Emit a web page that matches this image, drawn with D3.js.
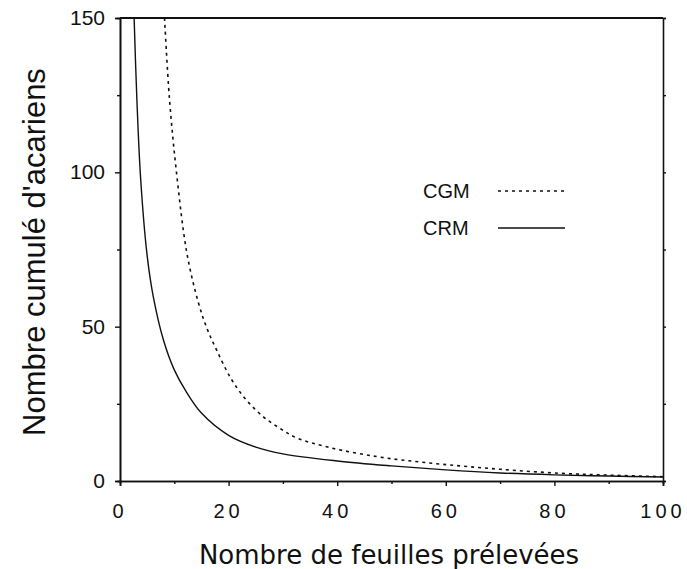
<!DOCTYPE html>
<html>
<head>
<meta charset="utf-8">
<script src="https://cdn.jsdelivr.net/npm/d3@7.9.0/dist/d3.min.js"></script>
<style>
  body { margin: 0; background: #fff; }
  svg { display: block; }
  text { fill: #111; }
</style>
</head>
<body>
<svg id="chart" width="687" height="569"></svg>
<script>
// values
const seriesNames = ['CGM', 'CRM'];
const crmX = [2.6, 3.1, 3.8, 5, 6.1, 8, 10, 12, 15, 20, 25, 30, 40, 50, 60, 70, 80, 90, 100];
const crmY = [150, 124, 98, 73, 60, 45.7, 36, 29.5, 22, 14.8, 11, 8.8, 6.5, 4.9, 3.6, 2.6, 2.0, 1.6, 1.3];
const cgmX = [8.2, 9.1, 10.4, 12.3, 14.4, 16, 17.8, 20.5, 23.3, 26.4, 29.5, 32.5, 38.7, 47.3, 55, 62.6, 70, 81, 90, 100];
const cgmY = [150, 124, 100, 74, 58, 49.5, 42.4, 33, 26.2, 20.8, 17, 14, 10.8, 7.9, 6.2, 4.9, 3.8, 2.5, 1.9, 1.4];
const xTicks = [0, 20, 40, 60, 80, 100];
const yTicks = [0, 50, 100, 150];

const plotLeft = 120, plotRight = 663, plotTop = 18, plotBottom = 481;

const svg = d3.select('#chart');

const x = d3.scaleLinear().domain([0, 100]).range([plotLeft, plotRight]);
const y = d3.scaleLinear().domain([0, 150]).range([plotBottom, plotTop]);

svg.append('defs').append('clipPath').attr('id', 'plot')
  .append('rect')
  .attr('x', plotLeft).attr('y', plotTop)
  .attr('width', plotRight - plotLeft).attr('height', plotBottom - plotTop);

// curves
let line = d3.line()
  .x((d) => x(d[0]))
  .y((d) => y(d[1]))
  .curve(d3.curveCatmullRom.alpha(0.5));

let crm = crmX.map((v, i) => [v, crmY[i]]);
let cgm = cgmX.map((v, i) => [v, cgmY[i]]);

svg.append('path')
  .attr('d', line(crm))
  .attr('clip-path', 'url(#plot)')
  .attr('fill', 'none')
  .attr('stroke', '#111')
  .attr('stroke-width', 1.4);

svg.append('path')
  .attr('d', line(cgm))
  .attr('clip-path', 'url(#plot)')
  .attr('fill', 'none')
  .attr('stroke', '#111')
  .attr('stroke-width', 1.6)
  .attr('stroke-dasharray', '3,4');

// axes
let xAxis = d3.axisBottom(x).tickValues(xTicks).tickSize(5).tickFormat(() => '');
let xMinor = d3.axisBottom(x).tickValues(d3.range(10, 100, 20)).tickSize(3).tickFormat(() => '');
let yAxis = d3.axisLeft(y).tickValues(yTicks).tickSize(5).tickFormat(() => '');
let yMinor = d3.axisLeft(y).tickValues([25, 75, 125]).tickSize(3).tickFormat(() => '');
let yRight = d3.axisRight(y).tickValues(d3.range(0, 151, 25)).tickSize(3).tickFormat(() => '');

svg.append('g').attr('transform', `translate(0,${plotBottom})`).call(xAxis);
svg.append('g').attr('transform', `translate(0,${plotBottom})`).call(xMinor);
svg.append('g').attr('transform', `translate(${plotLeft},0)`).call(yAxis);
svg.append('g').attr('transform', `translate(${plotLeft},0)`).call(yMinor);
svg.append('g').attr('transform', `translate(${plotRight},0)`).call(yRight);

svg.selectAll('.domain').attr('stroke', '#111').attr('stroke-width', 1.6);
svg.selectAll('.tick line').attr('stroke', '#111').attr('stroke-width', 1.4);

// top border
svg.append('line')
  .attr('x1', plotLeft).attr('x2', plotRight)
  .attr('y1', plotTop).attr('y2', plotTop)
  .attr('stroke', '#111').attr('stroke-width', 1.8);

// tick labels
svg.selectAll('.xlab')
  .data(xTicks)
  .join('text')
  .attr('x', (d) => x(d))
  .attr('y', 518)
  .attr('text-anchor', 'middle')
  .style('font-family', 'Liberation Sans, Arial, sans-serif')
  .style('font-size', '20px')
  .style('letter-spacing', '4px')
  .text((d) => d);

svg.selectAll('.ylab')
  .data(yTicks)
  .join('text')
  .attr('x', 105)
  .attr('y', (d) => y(d) + 7)
  .attr('text-anchor', 'end')
  .style('font-family', 'Liberation Sans, Arial, sans-serif')
  .style('font-size', '21px')
  .text((d) => d);

// axis titles
svg.append('text')
  .attr('x', 389)
  .attr('y', 564)
  .attr('text-anchor', 'middle')
  .style('font-family', 'DejaVu Sans, sans-serif')
  .style('font-size', '26px')
  .text('Nombre de feuilles prélevées');

svg.append('text')
  .attr('transform', 'translate(45,252) rotate(-90)')
  .attr('text-anchor', 'middle')
  .style('font-family', 'Liberation Sans, Arial, sans-serif')
  .style('font-size', '31px')
  .text("Nombre cumulé d'acariens");

// legend
let legend = svg.append('g');
seriesNames.forEach((name, i) => {
  let ly = 191 + i * 37;
  legend.append('text')
    .attr('x', 423)
    .attr('y', ly + 7)
    .style('font-family', 'Liberation Sans, Arial, sans-serif')
    .style('font-size', '20px')
    .text(name);
  legend.append('line')
    .attr('x1', 498).attr('x2', 565)
    .attr('y1', ly).attr('y2', ly)
    .attr('stroke', '#111')
    .attr('stroke-width', 1.4)
    .attr('stroke-dasharray', name === 'CGM' ? '3,4' : null);
});
</script>
</body>
</html>
